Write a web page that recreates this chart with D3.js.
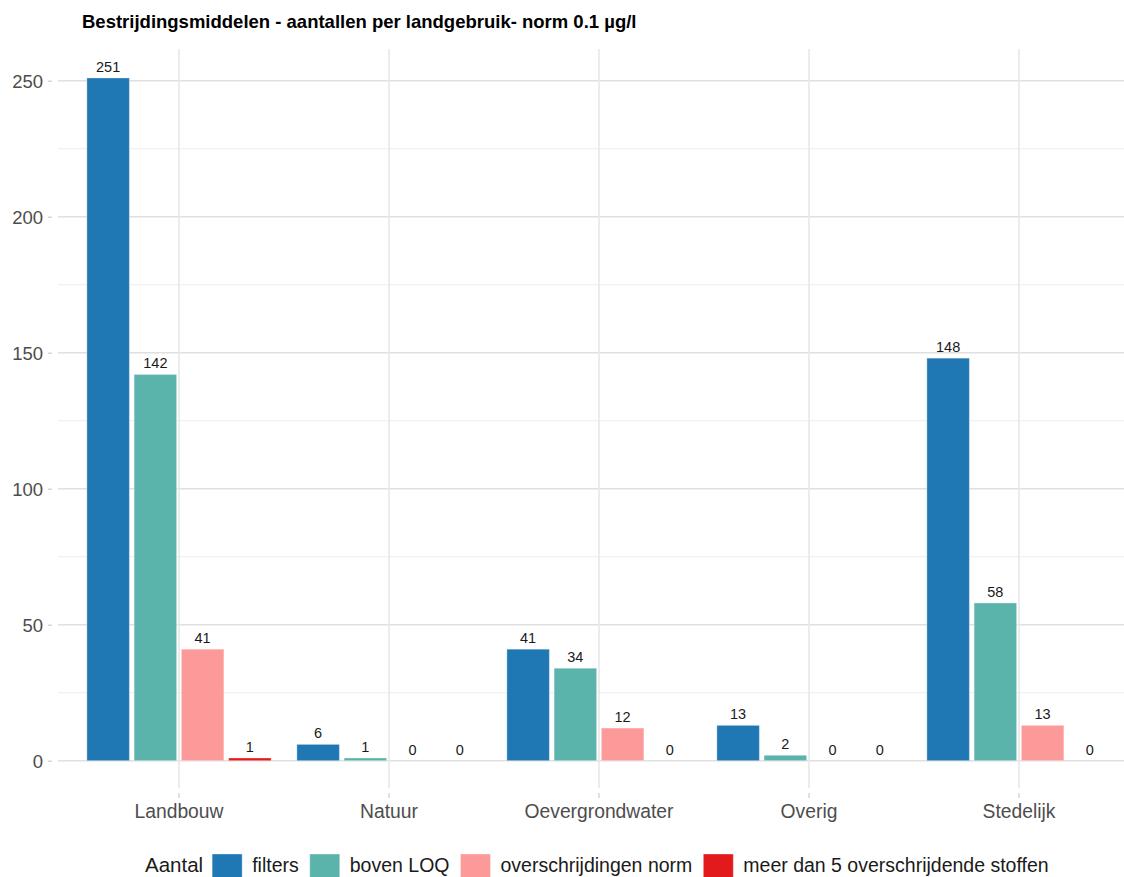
<!DOCTYPE html>
<html>
<head>
<meta charset="utf-8">
<script src="https://cdn.jsdelivr.net/npm/d3@7"></script>
<style>
  html, body { margin: 0; padding: 0; background: #fff; }
  svg { display: block; font-family: "Liberation Sans", Arial, sans-serif; }
</style>
</head>
<body>
<svg id="chart" width="1124" height="877"></svg>
<script>
const title = "Bestrijdingsmiddelen - aantallen per landgebruik- norm 0.1 µg/l";
const categories = ["Landbouw", "Natuur", "Oevergrondwater", "Overig", "Stedelijk"];
const seriesNames = ["filters", "boven LOQ", "overschrijdingen norm", "meer dan 5 overschrijdende stoffen"];
const seriesColors = ["#1f77b4", "#5ab4ac", "#fb9a99", "#e31a1c"];
const filters = [251, 6, 41, 13, 148];
const bovenLOQ = [142, 1, 34, 2, 58];
const overschrijdingen = [41, 0, 12, 0, 13];
const meerDan5 = [1, 0, 0, 0, 0];
const yTicks = [0, 50, 100, 150, 200, 250];
const yMinorTicks = [25, 75, 125, 175, 225];
const legendTitle = "Aantal";

const seriesValues = [filters, bovenLOQ, overschrijdingen, meerDan5];

const svg = d3.select("#chart");
const panelLeft = 58, panelRight = 1124, panelTop = 49, panelBottom = 788;

const y = d3.scaleLinear().domain([0, 250]).range([760.7, 80.7]);
const x = d3.scaleBand().domain(categories).range([74, 1124]).paddingInner(0).paddingOuter(0);
const bw = x.bandwidth();
const x1 = d3.scaleBand().domain(seriesNames).range([bw * 0.05, bw * 0.95]).padding(0);
const slot = x1.bandwidth();

// minor gridlines
svg.append("g").selectAll("line").data(yMinorTicks).join("line")
  .attr("x1", panelLeft).attr("x2", panelRight)
  .attr("y1", d => y(d)).attr("y2", d => y(d))
  .attr("stroke", "#f0f0f0").attr("stroke-width", 1.2);
// major gridlines
svg.append("g").selectAll("line").data(yTicks).join("line")
  .attr("x1", panelLeft).attr("x2", panelRight)
  .attr("y1", d => y(d)).attr("y2", d => y(d))
  .attr("stroke", "#e0e0e0").attr("stroke-width", 1.6);
svg.append("g").selectAll("line").data(categories).join("line")
  .attr("x1", d => x(d) + bw / 2).attr("x2", d => x(d) + bw / 2)
  .attr("y1", panelTop).attr("y2", panelBottom)
  .attr("stroke", "#e8e8e8").attr("stroke-width", 1.6);

// y axis
const yAxis = d3.axisLeft(y).tickValues(yTicks).tickSize(4).tickPadding(5);
const gy = svg.append("g").attr("transform", `translate(${panelLeft - 6},0)`).call(yAxis);
gy.select(".domain").remove();
gy.selectAll(".tick line").attr("stroke", "#cccccc").attr("stroke-width", 1.2);
gy.selectAll(".tick text").attr("fill", "#4d4d4d").style("font-size", "18.5px")
  .style("font-family", "'Liberation Sans', Arial, sans-serif").attr("dy", "0.35em");

// x axis
const xAxis = d3.axisBottom(x).tickSize(5).tickPadding(6);
const gx = svg.append("g").attr("transform", `translate(0,${panelBottom + 5})`).call(xAxis);
gx.select(".domain").remove();
gx.selectAll(".tick line").attr("stroke", "#cccccc").attr("stroke-width", 1.2);
gx.selectAll(".tick text").attr("fill", "#4d4d4d").style("font-size", "19.3px")
  .style("font-family", "'Liberation Sans', Arial, sans-serif").attr("dy", "0.71em");

// bars
const flat = [];
categories.forEach((c, ci) => {
  seriesNames.forEach((s, si) => {
    flat.push({ cat: c, ser: s, si, value: seriesValues[si][ci] });
  });
});

svg.append("g").selectAll("rect").data(flat.filter(d => d.value > 0)).join("rect")
  .attr("x", d => x(d.cat) + x1(d.ser) + slot * 0.05)
  .attr("width", slot * 0.9)
  .attr("y", d => y(d.value))
  .attr("height", d => y(0) - y(d.value))
  .attr("fill", d => seriesColors[d.si])
  .attr("stroke", "rgba(255,255,255,0.35)").attr("stroke-width", 1);

svg.append("g").selectAll("text").data(flat).join("text")
  .attr("x", d => x(d.cat) + x1(d.ser) + slot / 2)
  .attr("y", d => y(d.value) - 6)
  .attr("text-anchor", "middle")
  .attr("fill", "#1a1a1a")
  .style("font-size", "14.5px")
  .text(d => d.value);

// title
svg.append("text").attr("x", 82).attr("y", 28)
  .style("font-size", "18.5px").style("font-weight", "bold").attr("fill", "#000")
  .text(title);

// legend
const lg = svg.append("g");
let lx = 145;
const baseY = 872;
const lt = lg.append("text").attr("x", lx).attr("y", baseY).style("font-size", "20.5px")
  .attr("fill", "#1a1a1a").text(legendTitle);
lx += lt.node().getComputedTextLength() + 9;
seriesNames.forEach((s, i) => {
  lg.append("rect").attr("x", lx).attr("y", 854).attr("width", 30).attr("height", 30)
    .attr("fill", seriesColors[i]).attr("stroke", "rgba(255,255,255,0.35)").attr("stroke-width", 1);
  lx += 30 + 10;
  const t = lg.append("text").attr("x", lx).attr("y", baseY).style("font-size", "19.5px")
    .attr("fill", "#1a1a1a").text(s);
  lx += t.node().getComputedTextLength() + 11;
});
</script>
</body>
</html>
